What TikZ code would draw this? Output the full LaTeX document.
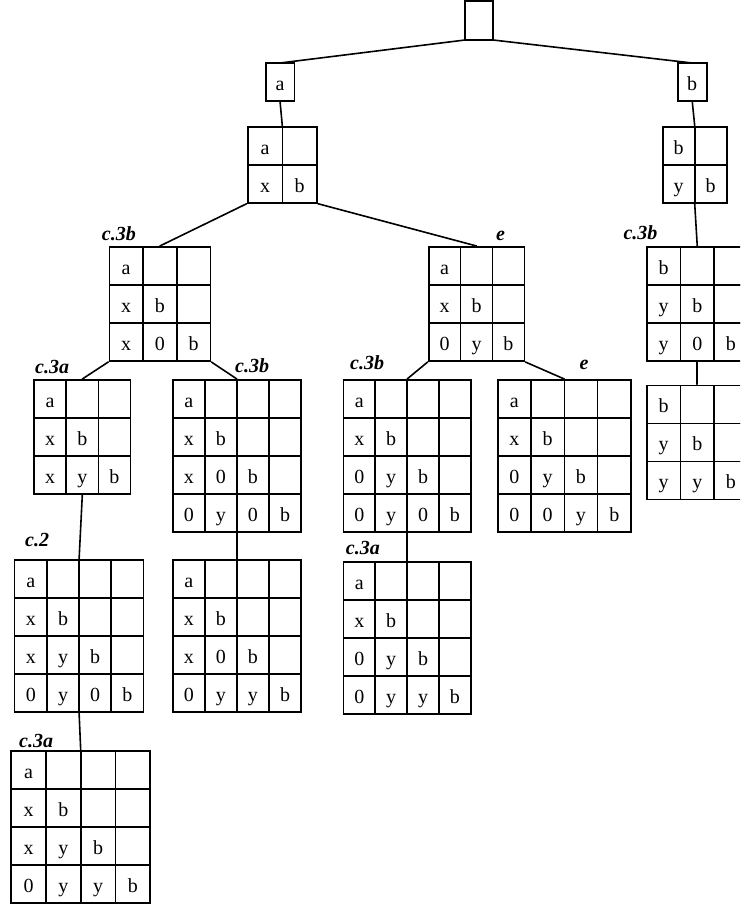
\documentclass[tikz,border=0pt]{standalone}
\usepackage{fontspec}
\setmainfont{Liberation Serif}
\usetikzlibrary{matrix}
\tikzset{
  cell/.style={draw,line width=1.6pt,outer sep=0pt,inner sep=0pt,
    minimum height=38pt,text height=17pt,text depth=0pt},
  board/.style={matrix of nodes,nodes in empty cells,inner sep=0pt,
    column sep=-1.6pt,row sep=-1.6pt,anchor=north west,
    nodes={cell,minimum width=#1}},
  board/.default=33pt,
  tag/.style={font=\fontsize{20}{24}\selectfont\bfseries\itshape,inner sep=0pt},
  link/.style={line width=1.6pt,line cap=round}
}

\begin{document}
\begin{tikzpicture}[x=1pt,y=-1pt,font=\fontsize{20}{24}\selectfont]
 \useasboundingbox (0,0) rectangle (740,905);
 \clip (0,0) rectangle (740,905);
 \node (root) [cell,minimum width=28pt,minimum height=39pt,anchor=north west] at (465,1) {};
 \node (g1) [cell,minimum width=28.6pt,anchor=north west] at (265.7,63) {a};
 \node (g2) [cell,minimum width=29pt,anchor=north west] at (677.7,63) {b};
 \matrix (g3) [board=34.6pt] at (246.7,125.7) {a & \\ x & b \\};
 \matrix (g4) [board=32pt] at (661.7,125.7) {b & \\ y & b \\};
 \matrix (g5) [board=33.7pt] at (108.3,246) {a & & \\ x & b & \\ x & 0 & b \\};
 \matrix (g6) [board=31.9pt] at (427.7,246) {a & & \\ x & b & \\ 0 & y & b \\};
 \matrix (g15) [board=33.7pt] at (645.7,246) {b & & \\ y & b & \\ y & 0 & b \\};
 \matrix (g7) [board=32.2pt] at (33,379) {a & & \\ x & b & \\ x & y & b \\};
 \matrix (g8) [board=32.1pt] at (171.7,379) {a & & & \\ x & b & & \\ x & 0 & b & \\ 0 & y & 0 & b \\};
 \matrix (g12) [board=31.9pt] at (342.3,379) {a & & & \\ x & b & & \\ 0 & y & b & \\ 0 & y & 0 & b \\};
 \matrix (g13) [board=33.3pt] at (496.7,379) {a & & & \\ x & b & & \\ 0 & y & b & \\ 0 & 0 & y & b \\};
 \matrix (g16) [board=33.7pt] at (645.7,384.3) {b & & \\ y & b & \\ y & y & b \\};
 \matrix (g10) [board=32.2pt] at (13.7,559) {a & & & \\ x & b & & \\ x & y & b & \\ 0 & y & 0 & b \\};
 \matrix (g9) [board=32.1pt] at (171.7,559) {a & & & \\ x & b & & \\ x & 0 & b & \\ 0 & y & y & b \\};
 \matrix (g14) [board=31.9pt] at (342.3,560.7) {a & & & \\ x & b & & \\ 0 & y & b & \\ 0 & y & y & b \\};
 \matrix (g11) [board=34.7pt] at (10.3,750) {a & & & \\ x & b & & \\ x & y & b & \\ 0 & y & y & b \\};
 \node (t5) [tag,anchor=base west] at (101.7,240) {c.3b};
 \node (t6) [tag,anchor=base west] at (496,240) {e};
 \node (t15) [tag,anchor=base west] at (623.3,239) {c.3b};
 \node (t7) [tag,anchor=base west] at (35,373) {c.3a};
 \node (t8) [tag,anchor=base west] at (235,372) {c.3b};
 \node (t12) [tag,anchor=base west] at (350,369) {c.3b};
 \node (t13) [tag,anchor=base west] at (579.3,369) {e};
 \node (t10) [tag,anchor=base west] at (25,546.7) {c.2};
 \node (t14) [tag,anchor=base west] at (345.7,554) {c.3a};
 \node (t11) [tag,anchor=base west] at (19,747.5) {c.3a};
 \draw[link] (root.south west) -- (g1.north);
 \draw[link] (root.south east) -- (g2.north);
 \draw[link] (g1.south) -- (g3.north);
 \draw[link] (g2.south) -- (g4.north);
 \draw[link] (g4.south) -- (g15.north);
 \draw[link] (g3.south west) -- (g5.north);
 \draw[link] (g3.south east) -- (g6.north);
 \draw[link] (g5.south west) -- (g7.north);
 \draw[link] (g5.south east) -- (g8.north);
 \draw[link] (g6.south west) -- (g12.north);
 \draw[link] (g6.south east) -- (g13.north);
 \draw[link] (g15.south) -- (g16.north);
 \draw[link] (g7.south) -- (g10.north);
 \draw[link] (g8.south) -- (g9.north);
 \draw[link] (g12.south) -- (g14.north);
 \draw[link] (g10.south) -- (g11.north);
\end{tikzpicture}
\end{document}
